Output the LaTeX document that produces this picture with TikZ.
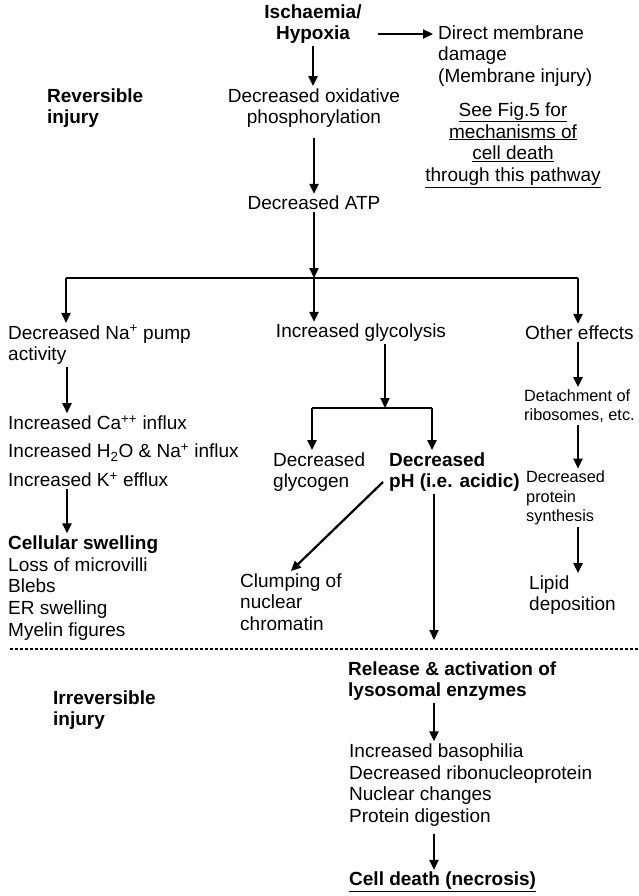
\documentclass[tikz,border=0pt]{standalone}
\usepackage{fontspec}
\setmainfont{Liberation Sans}
\usetikzlibrary{positioning}
\usetikzlibrary{arrows.meta}

\begin{document}
\begin{tikzpicture}[x=1pt,y=-1pt,
        txt/.style={inner sep=2pt,align=left,font=\fontsize{19}{21.75}\selectfont},
        sml/.style={txt,font=\fontsize{16.3}{19.5}\selectfont},
        bld/.style={txt,font=\fontsize{19}{21.75}\selectfont\bfseries},
        arr/.style={line width=2.2pt,-{Triangle[length=10pt,width=9pt]}},
        bar/.style={line width=2.2pt},
        divider/.style={line width=2.5pt,dash pattern=on 3pt off 2pt}]
        \useasboundingbox (0,0) rectangle (639,896);

        % columns
        \coordinate (colL) at (67,0);
        \coordinate (colM) at (434,0);
        \coordinate (colR) at (578,0);

        % top part
        \node[bld,align=center] (isch) at (313,24) {Ischaemia/\\Hypoxia};
        \node[txt,anchor=west] (direct) at (436,56) {Direct membrane\\damage\\(Membrane injury)};
        \node[bld,anchor=west] (rev) at (45,108) {Reversible\\injury};
        \node[txt,align=center] (oxid) at (314,108) {Decreased oxidative\\phosphorylation};
        \node[txt,align=center] (seefig) at (513,145) {\underline{See Fig.5 for}\\\underline{mechanisms of}\\\underline{cell death}\\\underline{through this pathway}};
        \node[txt] (atp) at (314,203) {Decreased ATP};

        \coordinate (split) at (314,278);
        \coordinate (splitL) at (66,278);
        \coordinate (splitR) at (578,278);

        % three branches
        \node[txt,anchor=west] (napump) at (6,345) {Decreased Na\textsuperscript{+} pump\\activity};
        \node[txt] (glyco) at (361,333) {Increased glycolysis};
        \node[txt,anchor=west] (others) at (523,333) {Other effects};

        \node[txt,anchor=west] (ions) at (6,451) {Increased Ca\textsuperscript{++} influx\\[6.75pt]Increased H\textsubscript{2}O \& Na\textsuperscript{+} influx\\[6.75pt]Increased K\textsuperscript{+} efflux};
        \node[txt,anchor=west] (swell) at (6,588) {\textbf{Cellular swelling}\\Loss of microvilli\\Blebs\\ER swelling\\Myelin figures};

        \coordinate (gsplit) at (385,408);
        \coordinate (gsplitL) at (312,408);
        \coordinate (gsplitR) at (432,408);
        \node[txt,anchor=west] (glycogen) at (271,472) {Decreased\\glycogen};
        \node[bld,anchor=west] (ph) at (387,472) {Decreased\\pH (i.e. acidic)};
        \node[txt,anchor=west] (clump) at (238,602) {Clumping of\\nuclear\\chromatin};
        \coordinate (phend) at (434,640);

        \node[sml,anchor=west] (detach) at (522,406) {Detachment of\\ribosomes, etc.};
        \node[sml,anchor=west] (synth) at (524,498) {Decreased\\protein\\synthesis};
        \node[txt,anchor=west] (lipid) at (527,595) {Lipid\\deposition};

        % irreversible part
        \coordinate (divL) at (10,649);
        \coordinate (divR) at (639,649);
        \node[bld,anchor=west] (irrev) at (51,710) {Irreversible\\injury};
        \node[bld,anchor=west] (release) at (346,681) {Release \& activation of\\lysosomal enzymes};
        \node[txt,anchor=west] (changes) at (347,785) {Increased basophilia\\Decreased ribonucleoprotein\\Nuclear changes\\Protein digestion};
        \node[bld,anchor=west] (death) at (347,882) {\underline{Cell death (necrosis)}};

        % connectors
        \draw[arr] ([shift={(14pt,-10pt)}]isch.east) -- ([shift={(-3pt,22pt)}]direct.west);
        \draw[arr] (isch.south) -- (isch.south |- oxid.north);
        \draw[arr,shorten <=8pt] (oxid.south) -- (oxid.south |- atp.north);
        \draw[arr] (atp.south) -- (split);
        \draw[bar] (splitL) -- (splitR);
        \draw[arr] (splitL) -- (splitL |- napump.north);
        \draw[arr] (split) -- (split |- glyco.north);
        \draw[arr] (splitR) -- (splitR |- others.north);

        \draw[arr] (napump.south -| colL) -- (ions.north -| colL);
        \draw[arr] (ions.south -| colL) -- (swell.north -| colL);

        \draw[arr] (glyco.south -| gsplit) -- (gsplit);
        \draw[bar] (gsplitL) -- (gsplitR);
        \draw[arr] (gsplitL) -- (gsplitL |- glycogen.north);
        \draw[arr] (gsplitR) -- (gsplitR |- ph.north);
        \draw[arr] ([shift={(-4pt,-10pt)}]ph.west) -- (clump.north);
        \draw[arr] (ph.south -| colM) -- (phend);

        \draw[arr] (others.south -| colR) -- (detach.north -| colR);
        \draw[arr] (detach.south -| colR) -- (synth.north -| colR);
        \draw[arr] (synth.south -| colR) -- (lipid.north -| colR);

        \draw[divider] (divL) -- (divR);
        \draw[arr] (release.south -| colM) -- (changes.north -| colM);
        \draw[arr,shorten <=5pt] (changes.south -| colM) -- (death.north -| colM);
    \end{tikzpicture}
\end{document}
